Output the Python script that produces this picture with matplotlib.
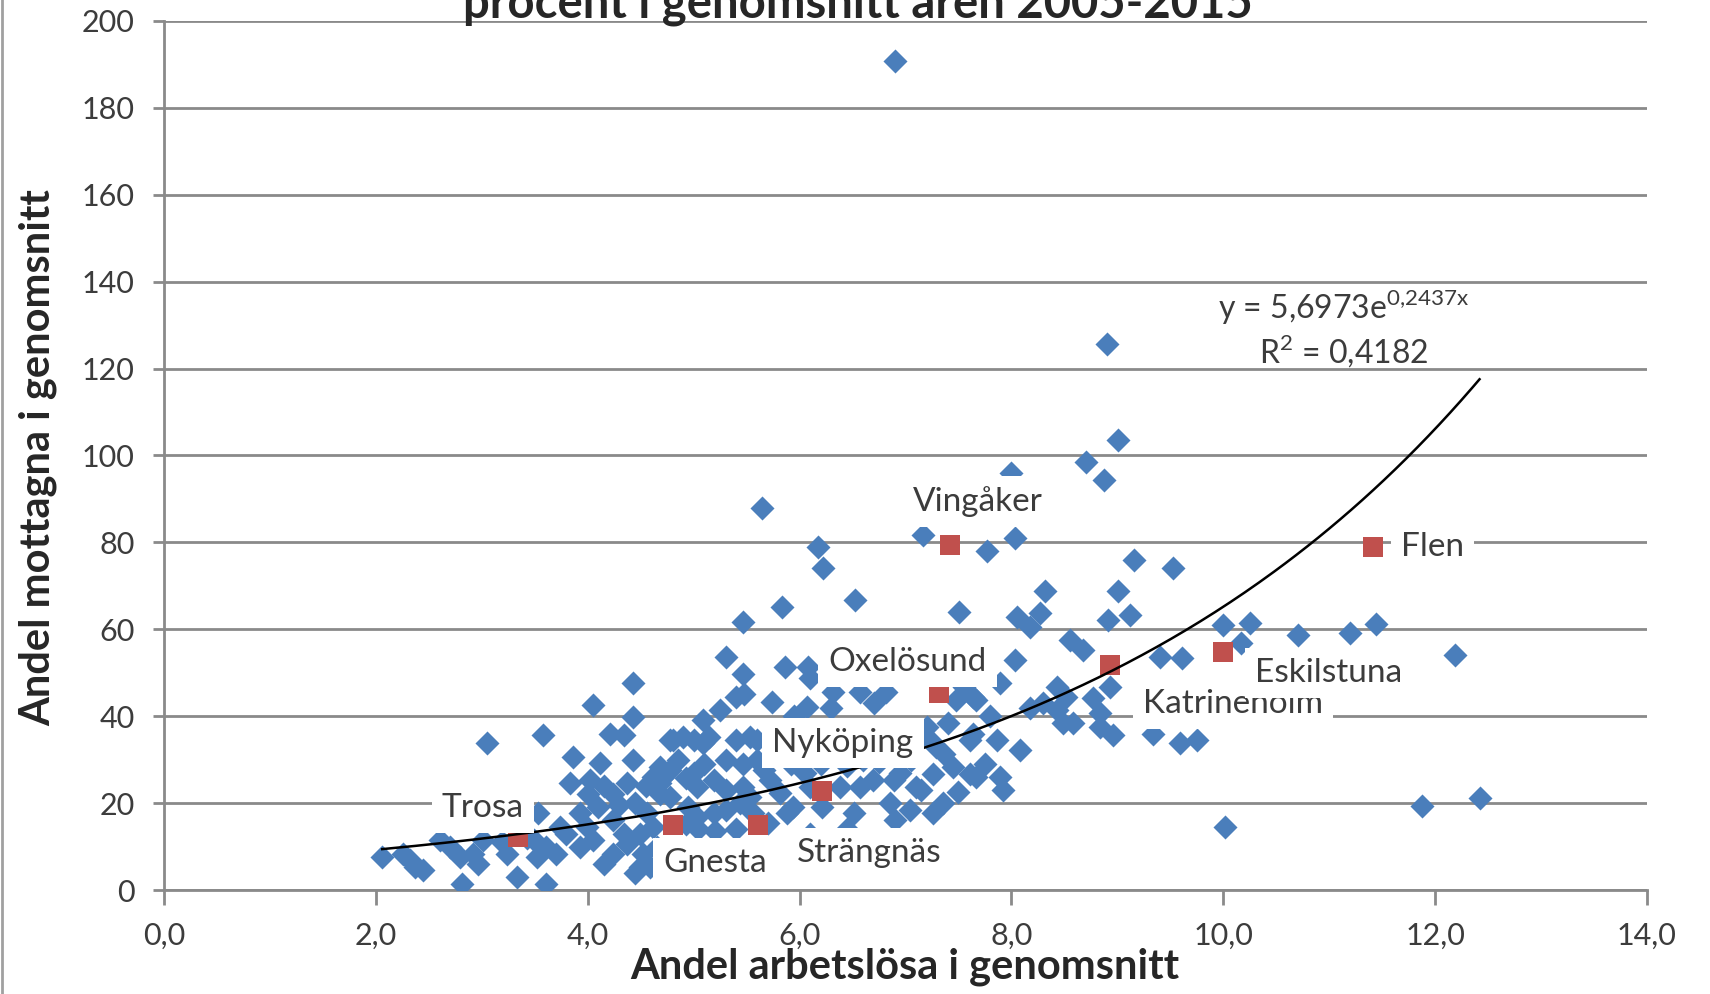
import numpy as np
import matplotlib
matplotlib.use("Agg")
import matplotlib.pyplot as plt
from matplotlib.lines import Line2D

plt.rcParams['font.family'] = ['Lato', 'DejaVu Sans']
plt.rcParams['mathtext.fontset'] = 'custom'
plt.rcParams['mathtext.rm'] = 'Lato'

# kommuner (blå romber): andel arbetslösa, andel mottagna
ledig_x = [2.06, 2.26, 2.32, 2.45, 2.37, 2.61, 2.70, 2.79, 2.81, 2.92, 2.96, 3.01, 3.05, 3.19, 3.24,
           3.33, 3.43, 3.49, 3.52, 3.53, 3.58, 3.61, 3.61, 3.70, 3.74, 3.80,
           3.83, 3.86, 3.93, 3.99, 3.93, 4.05, 4.05, 4.02, 4.12, 4.24, 4.37, 4.21, 4.34, 4.43, 4.43,
           4.43, 4.15, 4.24, 4.37, 4.49, 4.52, 4.49, 4.24, 4.34, 4.62, 4.56, 4.62, 4.68, 4.81, 4.74,
           4.59, 4.10, 4.45, 4.30, 4.15, 4.55, 4.45, 4.68, 4.68, 4.78, 4.00, 4.65,
           4.78, 4.90, 5.00, 5.09, 5.15, 5.40, 5.53, 5.60, 5.31, 5.47, 5.60, 5.66, 4.78, 4.93, 5.03,
           5.19, 5.31, 5.47, 5.53, 5.19, 5.31, 5.44, 5.56, 4.93, 5.03, 5.09, 5.25, 5.40, 5.48, 5.31,
           5.47, 5.47, 5.65, 4.85, 5.10, 4.95, 5.20, 5.40, 5.00, 5.04,
           5.72, 5.82, 5.94, 5.88, 5.74, 5.83, 5.86, 6.08, 6.10, 6.07, 6.32, 6.57, 6.82, 6.17, 6.22,
           6.52, 6.21, 6.10, 6.38, 6.51, 6.57, 6.69, 6.85, 6.89, 6.90, 5.76, 5.92, 6.05, 5.85, 6.00,
           5.95, 6.20, 6.45, 6.60, 6.75, 6.95, 6.30, 6.70, 6.10, 6.45, 6.90, 5.70,
           7.04, 7.10, 7.26, 7.26, 7.36, 7.45, 7.61, 7.64, 7.20, 7.23, 7.29, 7.17, 7.51, 7.48, 7.64,
           7.55, 7.67, 7.89, 7.77, 7.61, 7.86, 7.67, 7.89, 7.92, 8.00, 7.15, 7.35, 7.50, 7.75, 7.05,
           7.40, 7.80,
           8.03, 8.32, 9.01, 8.05, 8.27, 8.18, 8.91, 9.12, 8.55, 8.68, 8.03, 8.43, 8.52, 8.77, 8.93,
           8.18, 8.43, 8.49, 8.58, 8.84, 8.84, 8.96, 8.08, 8.70, 8.87, 8.90, 9.01, 9.16, 8.30,
           9.34, 9.59, 9.75, 9.40, 9.61, 9.53, 10.00, 10.25, 10.17, 10.02, 10.71, 11.20, 11.44,
           11.88, 12.19, 12.42]
ledig_y = [7.7, 8.4, 6.9, 4.6, 5.2, 11.5, 10.0, 7.7, 1.5, 8.4, 6.0, 11.5, 33.8, 11.0, 8.4,
           3.1, 12.0, 11.5, 7.7, 17.7, 35.7, 10.0, 1.5, 8.4, 14.6, 13.0,
           24.6, 30.7, 17.7, 14.6, 10.0, 11.5, 42.6, 25.3, 29.2, 22.2, 24.6, 36.0, 35.7, 47.6, 39.9,
           29.9, 6.1, 8.4, 10.7, 5.4, 8.4, 13.0, 16.1, 13.0, 14.6, 17.7, 26.1, 22.2, 34.5, 26.8,
           5.4, 19.0, 20.0, 19.5, 24.0, 24.0, 4.0, 28.4, 24.6, 21.5, 22.0, 10.0,
           34.5, 35.3, 34.5, 33.8, 35.3, 34.5, 35.3, 34.5, 29.9, 29.1, 29.9, 27.6, 27.6, 25.7, 23.8,
           25.3, 23.0, 23.8, 21.5, 17.7, 18.4, 20.0, 17.7, 15.3, 16.9, 39.1, 41.4, 44.5, 45.2, 53.7,
           49.8, 61.7, 88.0, 30.0, 29.0, 19.0, 13.5, 14.0, 27.0, 14.0,
           25.3, 22.3, 19.2, 17.7, 43.3, 65.2, 51.4, 51.4, 48.7, 42.2, 45.6, 45.6, 45.6, 79.0, 74.0,
           66.7, 19.2, 23.8, 23.8, 17.7, 23.8, 25.3, 20.0, 25.3, 190.7, 31.0, 29.0, 27.0, 36.0, 33.0,
           40.0, 29.0, 28.5, 30.0, 29.5, 27.0, 42.0, 43.0, 13.0, 14.0, 16.0, 15.5,
           18.4, 23.8, 17.7, 26.8, 31.4, 28.4, 26.8, 36.0, 37.6, 34.5, 33.0, 81.7, 64.0, 43.7, 44.5,
           46.8, 43.7, 47.6, 77.9, 34.5, 34.5, 26.1, 26.1, 23.0, 96.0, 23.0, 20.0, 22.5, 29.0, 30.0,
           38.5, 40.0,
           81.0, 68.7, 68.7, 62.9, 63.7, 60.6, 62.1, 63.3, 57.5, 55.2, 52.9, 46.8, 44.5, 44.1, 46.8,
           41.8, 41.4, 38.4, 38.4, 40.7, 37.6, 35.7, 32.2, 98.6, 94.4, 125.7, 103.6, 76.0, 43.0,
           36.0, 33.8, 34.5, 53.7, 53.3, 74.0, 61.0, 61.4, 56.8, 14.6, 58.7, 59.2, 61.2,
           19.3, 54.0, 21.1]

# Sörmlands kommuner (röda kvadrater)
sorm_namn = ["Trosa", "Gnesta", "Strängnäs", "Nyköping", "Oxelösund", "Vingåker",
             "Katrineholm", "Eskilstuna", "Flen"]
sorm_x = [3.34, 4.81, 5.61, 6.21, 7.32, 7.42, 8.93, 10.00, 11.41]
sorm_y = [12.3, 15.0, 15.0, 22.7, 45.4, 79.5, 51.8, 54.8, 79.0]
# var etiketterna står (mitt av texten)
etikett_xy = [(3.01, 18.8), (5.20, 6.3), (6.66, 8.5), (6.41, 33.9), (7.02, 52.4), (7.68, 89.3),
              (10.09, 42.7), (10.99, 50.0), (11.98, 79.0)]

# trendlinje y = a*e^(b*x)
trend_a = 5.6973
trend_b = 0.2437
trend_r2 = "0,4182"

xticks = [0, 2, 4, 6, 8, 10, 12, 14]
xtick_labels = ["0,0", "2,0", "4,0", "6,0", "8,0", "10,0", "12,0", "14,0"]
yticks = [0, 20, 40, 60, 80, 100, 120, 140, 160, 180, 200]

grid_col = '#8a8a8a'
txt_col = '#3c3c3c'

fig = plt.figure(figsize=(17.1, 9.94), dpi=100)
ax = fig.add_axes([0.0959, 0.1046, 0.8672, 0.8744])

ax.scatter(ledig_x, ledig_y, marker='D', s=150, color='#4a7ebb', linewidths=0, zorder=3)
ax.scatter(sorm_x, sorm_y, marker='s', s=220, color='#c0504d', linewidths=0, zorder=4)

alla_x = ledig_x + sorm_x
xx = np.linspace(min(alla_x), max(alla_x), 300)
ax.plot(xx, trend_a * np.exp(trend_b * xx), color='black', lw=1.8, zorder=5)

for namn, (lx, ly) in zip(sorm_namn, etikett_xy):
    ax.text(lx, ly, namn, fontsize=24, color=txt_col, ha='center', va='center', zorder=6,
            bbox=dict(boxstyle='square,pad=0.3', fc='white', ec='none'))

ax.text(11.14, 134, r"y = 5,6973e$^{\mathregular{0{,}2437x}}$", fontsize=23, color=txt_col,
        ha='center', va='center')
ax.text(11.14, 124, "R$^{\\mathregular{2}}$ = " + trend_r2, fontsize=23, color=txt_col,
        ha='center', va='center')

ax.set_xlim(0, 14)
ax.set_ylim(0, 200)
ax.set_xticks(xticks)
ax.set_xticklabels(xtick_labels)
ax.set_yticks(yticks)
ax.yaxis.grid(True, color=grid_col, lw=2)
ax.set_axisbelow(True)
for side in ['top', 'right']:
    ax.spines[side].set_visible(False)
for side in ['left', 'bottom']:
    ax.spines[side].set_color(grid_col)
    ax.spines[side].set_linewidth(2)
ax.tick_params(axis='y', length=8, width=2, color=grid_col, pad=13, labelsize=22, labelcolor=txt_col)
ax.tick_params(axis='x', length=11, width=2, color=grid_col, pad=12, labelsize=22, labelcolor=txt_col)

fig.add_artist(Line2D([0.001, 0.001], [0, 1], color='#a0a0a0', lw=2))

fig.text(858 / 1710, 1 - 17 / 994, "procent i genomsnitt åren 2005-2015", fontsize=34,
         fontweight='bold', color='#262626', ha='center', va='baseline')
fig.text(38 / 1710, 1 - 458 / 994, "Andel mottagna i genomsnitt", fontsize=30, fontweight='bold',
         color='#262626', ha='center', va='center', rotation=90)
fig.text(905 / 1710, 1 - 967 / 994, "Andel arbetslösa i genomsnitt", fontsize=30, fontweight='bold',
         color='#262626', ha='center', va='center')

fig.savefig("out.png", dpi=100)
